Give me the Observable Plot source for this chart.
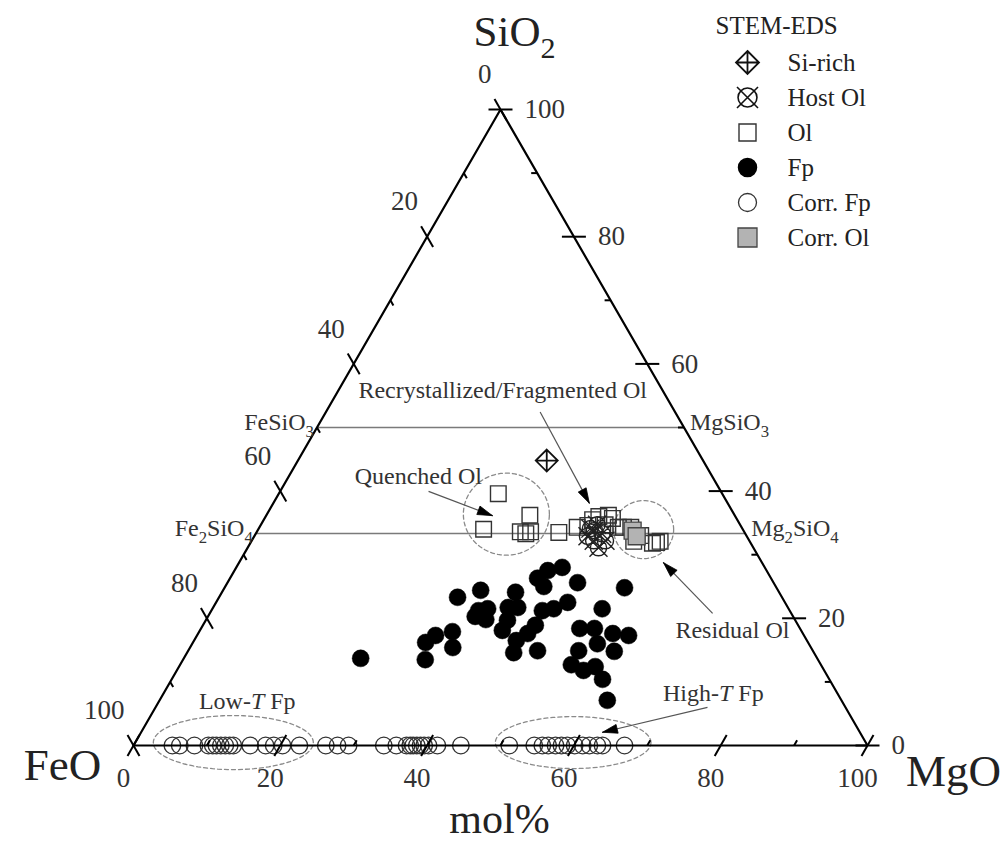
<!DOCTYPE html>
<html><head><meta charset="utf-8">
<script src="https://cdn.jsdelivr.net/npm/d3@7"></script>
<script src="https://cdn.jsdelivr.net/npm/@observablehq/plot@0.6"></script>
<style>
html,body{margin:0;padding:0;background:#fff;}
#wrap{position:relative;width:1006px;height:846px;overflow:hidden;}
#legend{position:absolute;left:700px;top:0;}
</style></head><body><div id="wrap"><div id="main"></div><div id="legend"></div></div>
<script>
// ---------------- DATA (mol%) ----------------
// Fp (filled circles)
const fpSiO2 = [13.7,16.2,13.5,17.3,17.9,15.4,23.3,24.4,21.2,20.3,21.5,19.8,24.1,21.7,21.7,19.7,18.1,26.3,27.5,28.0,25.0,25.6,21.2,21.5,22.5,18.9,17.6,16.5,14.6,14.9,24.8,21.5,18.4,18.4,16.0,17.6,17.3,14.8,14.9,12.7,11.8,12.4,10.4,7.1];
const fpMgO  = [24.1,31.7,33.0,32.5,34.5,35.8,32.5,35.1,36.4,36.4,37.5,38.1,40.0,40.2,41.5,41.1,41.2,41.9,42.7,44.4,43.4,47.7,45.1,46.5,47.9,45.3,44.9,43.9,44.5,47.6,54.5,53.1,51.6,53.6,55.2,56.5,58.8,58.1,53.2,53.3,55.4,56.7,58.7,61.0];
// Corr. Fp (open circles, SiO2 = 0)
const corrFpMgO = [5.3,6.3,8.3,10.2,10.8,11.3,11.9,12.5,13.1,13.6,15.9,18.0,19.1,20.3,22.6,26.2,27.8,29.3,34.1,35.8,37.2,37.7,38.1,38.6,39.1,39.6,40.2,41.4,44.6,51.2,54.6,55.7,56.5,57.5,58.3,59.1,60.1,61.2,62.1,63.2,63.9,66.9];
// Ol (open squares)
const olSiO2 = [39.6,34.0,33.6,33.3,33.6,36.2,33.5,34.3,34.6,35.5,36.0,36.2,35.7,34.7,34.3,34.3,34.3,33.0,32.1,31.8,31.9,32.1];
const olMgO  = [29.9,30.7,35.9,36.8,37.3,35.9,41.2,43.3,44.6,44.8,45.4,46.6,47.4,46.9,48.9,49.6,50.6,52.6,52.1,54.8,55.3,55.7];
// Host Ol
const hostSiO2 = [34.1,34.7,33.3,32.2,31.1,32.9,32.2,33.8];
const hostMgO  = [45.2,45.8,47.2,46.6,47.8,45.4,48.2,45.9];
// Si-rich
const siSiO2 = [44.8];
const siMgO  = [33.9];
// Corr. Ol
const corrOlSiO2 = [33.8,32.9];
const corrOlMgO  = [51.1,52.1];

// reference compositions
const refSiO2 = [50, 100/3];
const refLeft = ["FeSiO_3","Fe_2SiO_4"];
const refRight = ["MgSiO_3","Mg_2SiO_4"];

// axis ticks
const majorTicks = [0,20,40,60,80,100];
const minorTicks = [10,30,50,70,90];

// legend
const legendItems = ["Si-rich","Host Ol","Ol","Fp","Corr. Fp","Corr. Ol"];
const legendTitle = "STEM-EDS";

// annotations (ternary plane coordinates, % of side)
const annoLabels = ["Recrystallized/Fragmented Ol","Quenched Ol","Residual Ol","High-*T* Fp","Low-*T* Fp"];
const annoX = [50.3,38.8,81.6,79.0,15.5];
const annoY = [48.4,36.6,15.7,7.15,6.0];
const arrowFrom = [[40.2,34.6],[55.4,45.4],[78.9,18.0],[78.2,5.2]];
const arrowTo   = [[48.9,31.3],[62.1,33.0],[72.2,24.9],[63.9,1.8]];
const ellCx = [50.8,69.5,13.6,59.9];
const ellCy = [31.5,29.4,0.4,0.4];
const ellRx = [5.86,4.09,10.9,10.6];
const ellRy = [5.59,3.95,3.68,3.54];

// ---------------- GEOMETRY ----------------
const S3 = Math.sqrt(3)/2;
const PX = 7.34; // px per unit
function pts(si, mg){ return si.map((s,i)=>({sio2:s, mgo:mg[i], feo:100-s-mg[i], x: mg[i]+s/2, y: s*S3})); }
const fp = pts(fpSiO2, fpMgO);
const corrFp = pts(corrFpMgO.map(()=>0), corrFpMgO);
const ol = pts(olSiO2, olMgO);
const host = pts(hostSiO2, hostMgO);
const si = pts(siSiO2, siMgO);
const corrOl = pts(corrOlSiO2, corrOlMgO);

const tri = [{x:0,y:0},{x:100,y:0},{x:50,y:100*S3},{x:0,y:0}];
const refLines = refSiO2.map((s,i)=>({x1:s/2, y1:s*S3, x2:100-s/2, y2:s*S3, left:refLeft[i], right:refRight[i]}));

function axisPoint(a, v){
  if(a==="MgO") return [v,0];
  if(a==="SiO2") return [100-v/2, v*S3];
  return [(100-v)/2, (100-v)*S3];
}
const axisDir = {MgO:[0.5,S3], SiO2:[1,0], FeO:[-0.5,S3]};
const innerSign = {MgO:1, SiO2:-1, FeO:-1};
const L = 12/PX, l = 6/PX;
const tickSegs = [];
for(const a of ["MgO","SiO2","FeO"]){
  const [dx,dy] = axisDir[a];
  for(const v of majorTicks){ const [px,py]=axisPoint(a,v); tickSegs.push({x1:px-dx*L,y1:py-dy*L,x2:px+dx*L,y2:py+dy*L}); }
  for(const v of minorTicks){ const [px,py]=axisPoint(a,v); const s=innerSign[a]; tickSegs.push({x1:px,y1:py,x2:px+s*dx*l,y2:py+s*dy*l}); }
}
const tickLab = a => majorTicks.map(v=>{const [x,y]=axisPoint(a,v); return {x,y,v:String(v)};});

const annos = annoLabels.map((t,i)=>({label:t, x:annoX[i], y:annoY[i]}));
const shafts = arrowFrom.map((f,i)=>({x1:f[0],y1:f[1],x2:arrowTo[i][0],y2:arrowTo[i][1]}));
const heads = [];
arrowFrom.forEach((f,i)=>{
  const t = arrowTo[i];
  const ux = t[0]-f[0], uy = t[1]-f[1], n = Math.hypot(ux,uy);
  const ex = ux/n, ey = uy/n, hl = 15/PX, hw = 4.5/PX;
  const bx = t[0]-ex*hl, by = t[1]-ey*hl;
  const P = [[t[0],t[1]],[bx-ey*hw,by+ex*hw],[bx+ey*hw,by-ex*hw],[t[0],t[1]]];
  P.forEach(p=>heads.push({id:i,x:p[0],y:p[1]}));
});
const ells = [];
ellCx.forEach((cx,i)=>{
  for(let k=0;k<=96;k++){ const a=k/96*2*Math.PI; ells.push({id:i, x:cx+ellRx[i]*Math.cos(a), y:ellCy[i]+ellRy[i]*Math.sin(a)}); }
});

// ---------------- SYMBOLS ----------------
const rOf = size => Math.sqrt(size/Math.PI);
const squareSym = {draw(c,size){const r=rOf(size); c.moveTo(-r,-r); c.lineTo(r,-r); c.lineTo(r,r); c.lineTo(-r,r); c.closePath();}};
const diamondPlus = {draw(c,size){const r=rOf(size); c.moveTo(0,-r); c.lineTo(r,0); c.lineTo(0,r); c.lineTo(-r,0); c.closePath(); c.moveTo(0,-r); c.lineTo(0,r); c.moveTo(-r,0); c.lineTo(r,0);}};
const circleX = {draw(c,size){const r=rOf(size); const k=r*1.0; c.moveTo(r*0.9,0); c.arc(0,0,r*0.9,0,2*Math.PI); c.moveTo(-k,-k); c.lineTo(k,k); c.moveTo(k,-k); c.lineTo(-k,k);}};

const FONT = "'Liberation Serif','Times New Roman',serif";

// ---------------- MAIN PLOT ----------------
const main = Plot.plot({
  width: 1006, height: 846,
  marginLeft: 133, marginRight: 139, marginTop: 109, marginBottom: 101,
  x: {domain:[0,100], axis:null},
  y: {domain:[0,100*S3], axis:null},
  style: {fontFamily: FONT, background:"white", color:"black", overflow:"visible"},
  marks: [
    Plot.link(refLines, {x1:"x1", y1:"y1", x2:"x2", y2:"y2", stroke:"#7a7a7a", strokeWidth:1.3}),
    Plot.line(ells, {x:"x", y:"y", z:"id", stroke:"#8a8a8a", strokeWidth:1.3, strokeDasharray:"4,3"}),
    Plot.dot(fp, {x:"x", y:"y", r:8.5, fill:"black", stroke:"black", strokeWidth:0.5}),
    Plot.dot(corrFp, {x:"x", y:"y", r:8.3, fill:"none", stroke:"#333", strokeWidth:1.3}),
    Plot.dot(ol, {x:"x", y:"y", r:7.8, symbol:squareSym, fill:"none", stroke:"#333", strokeWidth:1.4}),
    Plot.dot(corrOl, {x:"x", y:"y", r:8.5, symbol:squareSym, fill:"#b3b3b3", stroke:"#444", strokeWidth:1.3}),
    Plot.dot(host, {x:"x", y:"y", r:9, symbol:circleX, fill:"none", stroke:"#222", strokeWidth:1.4}),
    Plot.dot(si, {x:"x", y:"y", r:11, symbol:diamondPlus, fill:"none", stroke:"#111", strokeWidth:1.8}),
    Plot.line(tri, {x:"x", y:"y", stroke:"black", strokeWidth:2.2, strokeLinejoin:"miter"}),
    Plot.link(tickSegs, {x1:"x1", y1:"y1", x2:"x2", y2:"y2", stroke:"black", strokeWidth:2}),
    Plot.text(tickLab("MgO"), {x:"x", y:"y", text:"v", dx:-10, dy:33, textAnchor:"middle", lineAnchor:"middle", fontSize:27, fill:"#333"}),
    Plot.text(tickLab("SiO2"), {x:"x", y:"y", text:"v", dx:24, dy:0, textAnchor:"start", lineAnchor:"middle", fontSize:27, fill:"#333"}),
    Plot.text(tickLab("FeO"), {x:"x", y:"y", text:"v", dx:-9, dy:-35, textAnchor:"end", lineAnchor:"middle", fontSize:27, fill:"#333"}),
    Plot.text(refLines, {x:"x1", y:"y1", text:"left", dx:-3, dy:-5, textAnchor:"end", lineAnchor:"middle", fontSize:24, fill:"#333"}),
    Plot.text(refLines, {x:"x2", y:"y2", text:"right", dx:6, dy:-5, textAnchor:"start", lineAnchor:"middle", fontSize:24, fill:"#333"}),
    Plot.link(shafts, {x1:"x1", y1:"y1", x2:"x2", y2:"y2", stroke:"#555", strokeWidth:1.2}),
    Plot.line(heads, {x:"x", y:"y", z:"id", fill:"black", stroke:"black", strokeWidth:0.8}),
    Plot.text(annos, {x:"x", y:"y", text:"label", textAnchor:"middle", lineAnchor:"middle", fontSize:24, fill:"#333"}),
    Plot.text([tri[2]], {x:"x", y:"y", text:()=>"SiO_2", dx:14, dy:-77, textAnchor:"middle", lineAnchor:"middle", fontSize:43, fill:"#222"}),
    Plot.text([tri[0]], {x:"x", y:"y", text:()=>"FeO", dx:-71, dy:20, textAnchor:"middle", lineAnchor:"middle", fontSize:45, fill:"#222"}),
    Plot.text([tri[1]], {x:"x", y:"y", text:()=>"MgO", dx:86, dy:26, textAnchor:"middle", lineAnchor:"middle", fontSize:45, fill:"#222"}),
    Plot.text([{x:50,y:0}], {x:"x", y:"y", text:()=>"mol%", dx:-1, dy:74, textAnchor:"middle", lineAnchor:"middle", fontSize:42, fill:"#222"})
  ]
});
document.getElementById("main").appendChild(main);

// ---------------- LEGEND ----------------
const lg = Plot.plot({
  width: 306, height: 260, margin: 0,
  x: {domain:[0,1], range:[47,87], axis:null},
  y: {type:"point", domain: legendItems, range:[62,237], padding:0, axis:null},
  style: {fontFamily: FONT, background:"transparent", color:"black"},
  marks: [
    Plot.dot(["Si-rich"], {x:()=>0, y:d=>d, r:11.5, symbol:diamondPlus, fill:"none", stroke:"#111", strokeWidth:1.8}),
    Plot.dot(["Host Ol"], {x:()=>0, y:d=>d, r:10.5, symbol:circleX, fill:"none", stroke:"#111", strokeWidth:1.6}),
    Plot.dot(["Ol"], {x:()=>0, y:d=>d, r:8.5, symbol:squareSym, fill:"none", stroke:"#333", strokeWidth:1.4}),
    Plot.dot(["Fp"], {x:()=>0, y:d=>d, r:9, fill:"black", stroke:"black"}),
    Plot.dot(["Corr. Fp"], {x:()=>0, y:d=>d, r:9, fill:"none", stroke:"#333", strokeWidth:1.3}),
    Plot.dot(["Corr. Ol"], {x:()=>0, y:d=>d, r:9.5, symbol:squareSym, fill:"#b3b3b3", stroke:"#444", strokeWidth:1.3}),
    Plot.text(legendItems, {x:()=>1, y:d=>d, text:d=>d, textAnchor:"start", lineAnchor:"middle", fontSize:25, fill:"#222"}),
    Plot.text([legendTitle], {frameAnchor:"top-left", text:d=>d, dx:15, dy:25, textAnchor:"start", lineAnchor:"middle", fontSize:25, fill:"#222"})
  ]
});
document.getElementById("legend").appendChild(lg);

// ---------------- RICH TEXT (subscripts / italics) ----------------
function richify(svg){
  svg.querySelectorAll("text").forEach(t=>{
    const s = t.textContent;
    if(!/[_*]/.test(s)) return;
    const fs = parseFloat(getComputedStyle(t).fontSize) || 20;
    while(t.firstChild) t.removeChild(t.firstChild);
    const re = /_(\d)|\*([^*]+)\*|([^_*]+)/g; let m; let shifted = false;
    while((m = re.exec(s))){
      const ts = document.createElementNS("http://www.w3.org/2000/svg","tspan");
      if(m[1]){ ts.textContent = m[1]; ts.setAttribute("font-size",(fs*0.7)+"px"); ts.setAttribute("dy",(fs*0.28)+"px"); shifted = true; }
      else {
        ts.textContent = m[2] || m[3];
        if(m[2]) ts.setAttribute("font-style","italic");
        if(shifted){ ts.setAttribute("dy",(-fs*0.28)+"px"); shifted = false; }
      }
      t.appendChild(ts);
    }
  });
}
richify(main); richify(lg);
</script>
</body></html>
